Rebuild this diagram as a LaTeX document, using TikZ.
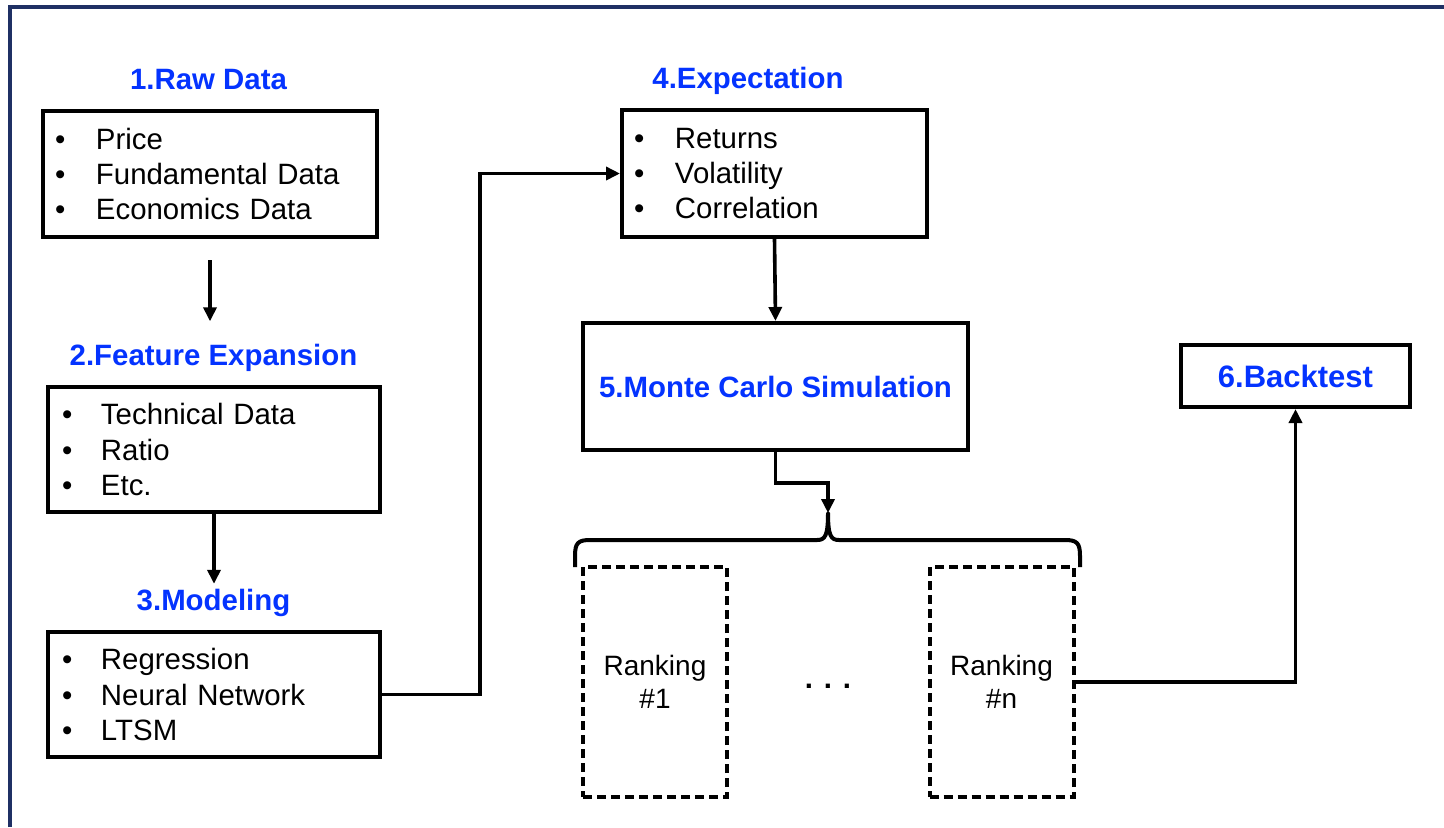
\documentclass[tikz,border=0pt]{standalone}
\usepackage{fontspec}
\setmainfont{Liberation Sans}
\usetikzlibrary{arrows.meta}
\definecolor{ttlblue}{RGB}{4,51,255}
\definecolor{navy}{RGB}{31,48,100}
\newcommand\itmA[1]{\makebox[20.5pt][l]{\textbullet}#1}
\newcommand\itmB[1]{\makebox[19.5pt][l]{\textbullet}#1}
\begin{document}
\begin{tikzpicture}[x=0.5pt,y=-0.5pt,
  box/.style={draw, line width=2pt, inner sep=0pt},
  listbox/.style={box, align=left, inner ysep=0pt, font=\fontsize{14.7pt}{17.65pt}\selectfont},
  ttl/.style={text=ttlblue, font=\fontsize{14.7pt}{17.65pt}\selectfont\bfseries, inner sep=0pt, anchor=base},
  conn/.style={line width=1.8pt},
  arr/.style={conn, -{Triangle[length=7pt,width=6.5pt]}},
  dbox/.style={draw, line width=2pt, dash pattern=on 4.5pt off 2.5pt, align=center,
    minimum width=72pt, minimum height=115pt, inner sep=0pt,
    font=\fontsize{14pt}{16.5pt}\selectfont}
]
\useasboundingbox (0,0) rectangle (1444,827);
\fill[white] (0,0) rectangle (1444,827);
% frame
\draw[navy, line width=2pt] (9.5,827) -- (9.5,7) -- (1444,7);

% titles
\node[ttl] (t1) at (208.5,89.5) {1.Raw Data};
\node[ttl] (t2) at (213.5,365) {2.Feature Expansion};
\node[ttl] (t3) at (213.5,610.5) {3.Modeling};
\node[ttl] (t4) at (748,88) {4.Expectation};

% list boxes
\node[listbox, minimum width=167pt, minimum height=63pt, inner xsep=6pt, text width=155pt] (b1) at (210,174)
  {\itmA{Price}\\\itmA{Fundamental Data}\\\itmA{Economics Data}};
\node[listbox, minimum width=166pt, minimum height=62.5pt, inner xsep=7pt, text width=152pt] (b2) at (214,449.5)
  {\itmB{Technical Data}\\\itmB{Ratio}\\\itmB{Etc.}};
\node[listbox, minimum width=166pt, minimum height=62.5pt, inner xsep=7pt, text width=152pt] (b3) at (214,694.5)
  {\itmB{Regression}\\\itmB{Neural Network}\\\itmB{LTSM}};
\node[listbox, minimum width=152.5pt, minimum height=63.5pt, inner xsep=6pt, text width=140.5pt] (b4) at (774.5,173.5)
  {\itmA{Returns}\\\itmA{Volatility}\\\itmA{Correlation}};

% Monte Carlo
\node[box, minimum width=192.5pt, minimum height=63.5pt, text=ttlblue,
  font=\fontsize{14.7pt}{17.65pt}\selectfont\bfseries] (b5) at (775.5,386.5) {5.Monte Carlo Simulation};
% Backtest
\node[box, minimum width=114.5pt, minimum height=31pt, text=ttlblue,
  font=\fontsize{15.5pt}{18pt}\selectfont\bfseries] (b6) at (1295.5,376) {6.Backtest};

% rankings
\node[dbox] (rA) at (655,682) {Ranking\\\#1};
\node[dbox] (rB) at (1001.5,682) {Ranking\\\#n};
\node[font=\fontsize{14.7pt}{17.65pt}\selectfont\bfseries, inner sep=0pt] (dots) at (828,686) {. . .};

% brace
\coordinate (bt) at (828,513);
\draw[line width=2pt, line join=round]
  (575,567) -- (575,556) .. controls (575,543) and (578,540) .. (590,540)
  -- (817,540) .. controls (825,540) and (828,536) .. (bt)
  .. controls (828,536) and (831,540) .. (839,540)
  -- (1065,540) .. controls (1077,540) and (1080,543) .. (1080,556) -- (1080,567);

% connectors
\draw[arr] ([yshift=-10.5pt]b1.south) -- ([yshift=11pt]b1.south |- t2.north);
\draw[arr] (b2.south) -- ([yshift=2.5pt]b2.south |- t3.north);
\coordinate (j1) at (480,0);
\draw[arr] (b3.east) -| (j1 |- b4.west) -- (b4.west);
\draw[arr] (b4.south) -- (b5.north);
\coordinate (k1) at (0,483);
\draw[arr] (b5.south) -- (b5.south |- k1) -| (bt);
\draw[arr] (rB.east) -| (b6.south);
\end{tikzpicture}
\end{document}
